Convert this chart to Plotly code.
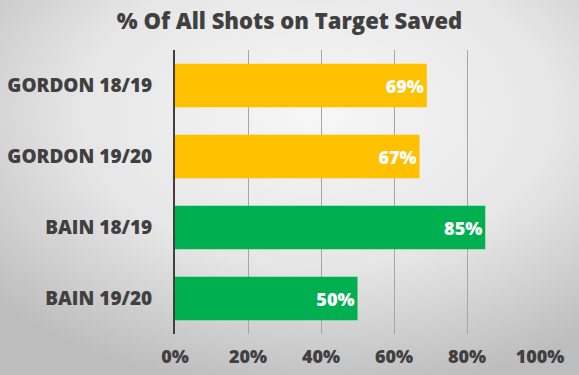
import plotly.graph_objects as go
import urllib.parse

categories = ["GORDON 18/19", "GORDON 19/20", "BAIN 18/19", "BAIN 19/20"]
values = [69, 67, 85, 50]
bar_colors = ["#FFC000", "#FFC000", "#00B050", "#00B050"]
tick_vals = [0, 20, 40, 60, 80, 100]
tick_text = ["0%", "20%", "40%", "60%", "80%", "100%"]
title_text = "% Of All Shots on Target Saved"

W, H = 579, 375
L, R, T, B = 175, 39, 50, 41
pw, ph = W - L - R, H - T - B

svg = (
    f'<svg xmlns="http://www.w3.org/2000/svg" width="{W}" height="{H}" viewBox="0 0 {W} {H}" preserveAspectRatio="none">'
    '<defs><radialGradient id="g" cx="0.55" cy="0.3" r="0.75" gradientUnits="objectBoundingBox">'
    '<stop offset="0" stop-color="#f7f7f7"/><stop offset="0.55" stop-color="#e6e6e6"/>'
    '<stop offset="1" stop-color="#bdbdbd"/></radialGradient></defs>'
    f'<rect width="{W}" height="{H}" fill="url(#g)"/></svg>'
)
src = "data:image/svg+xml;charset=utf-8," + urllib.parse.quote(svg)

font_family = "'Open Sans', Lato, sans-serif"

fig = go.Figure(
    go.Bar(
        x=values,
        y=categories,
        orientation="h",
        marker=dict(color=bar_colors, line=dict(width=0)),
        text=[f"{v}%" for v in values],
        textposition="inside",
        insidetextanchor="end",
        textfont=dict(color="white", size=18, family=font_family, weight=800),
        width=0.61,
        hoverinfo="skip",
    )
)

fig.update_layout(
    width=W,
    height=H,
    margin=dict(l=L, r=R, t=T, b=B, pad=0, autoexpand=False),
    paper_bgcolor="#cfcfcf",
    plot_bgcolor="rgba(0,0,0,0)",
    title=dict(
        text=title_text,
        x=0.5,
        xanchor="center",
        y=1 - 21 / H,
        yanchor="middle",
        font=dict(size=22, color="#404040", family=font_family, weight=800),
    ),
    showlegend=False,
    images=[
        dict(
            source=src,
            xref="paper",
            yref="paper",
            x=-L / pw,
            y=1 + T / ph,
            sizex=W / pw,
            sizey=H / ph,
            xanchor="left",
            yanchor="top",
            sizing="stretch",
            layer="below",
        )
    ],
    uniformtext=dict(mode=False),
)

fig.update_xaxes(
    range=[0, 100],
    tickvals=tick_vals,
    ticktext=tick_text,
    showgrid=True,
    gridcolor="#a6a6a6",
    gridwidth=1,
    zeroline=False,
    showline=False,
    ticks="",
    automargin=False,
    tickfont=dict(size=18, color="#404040", family=font_family, weight=800),
    ticklabelstandoff=10,
)
fig.update_yaxes(
    autorange="reversed",
    showline=True,
    linecolor="#404040",
    linewidth=2,
    ticks="",
    showgrid=False,
    automargin=False,
    tickfont=dict(size=19, color="#404040", family=font_family, weight=800),
    ticklabelstandoff=17,
)

fig.write_html(
    "out.html",
    config={"displayModeBar": False},
    post_script="document.body.style.margin='0';document.body.style.overflow='hidden';",
)
